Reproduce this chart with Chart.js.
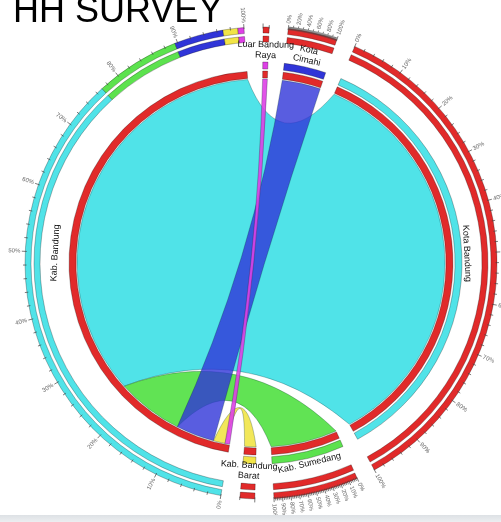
<!DOCTYPE html>
<html lang="id">
<head>
<meta charset="UTF-8">
<title>HH Survey</title>
<style>
    body {
        margin: 0;
        background: #fff;
        font-family: "Liberation Sans", Arial, sans-serif;
    }
    .wrap {
        position: relative;
        width: 501px;
        height: 522px;
        overflow: hidden;
    }
    .title {
        position: absolute;
        left: 13px;
        top: -8px;
        font-size: 36px;
        line-height: 36px;
        color: #000;
        white-space: nowrap;
    }
    #chart {
        position: absolute;
        left: 0;
        top: 0;
    }
    .strip {
        position: absolute;
        left: 0;
        bottom: 0;
        width: 501px;
        height: 7px;
        background: linear-gradient(#dde1e5, #eceef0);
    }
</style>
<script src="https://cdn.jsdelivr.net/npm/chart.js"></script>
</head>
<body>
<div class="wrap">
    <canvas id="chart" width="501" height="522"></canvas>
    <div class="title">HH SURVEY</div>
    <div class="strip"></div>
</div>

<script>
    // households of Kab. Bandung by destination (% of the origin total)
    const origin = 'Kab. Bandung';
    const destinations = ['Kota Bandung', 'Kab. Sumedang', 'Kota Cimahi', 'Kab. Bandung Barat', 'Luar Bandung Raya'];
    const hhShare = [77.0, 12.6, 7.3, 2.2, 0.9];

    // segments round the circle, clockwise from the top
    const ringOrder = ['Luar Bandung Raya', 'Kota Cimahi', 'Kota Bandung', 'Kab. Sumedang', 'Kab. Bandung Barat', 'Kab. Bandung'];
    const ringText = [['Luar Bandung', 'Raya'], ['Kota', 'Cimahi'], ['Kota Bandung'], ['Kab. Sumedang'], ['Kab. Bandung', 'Barat'], ['Kab. Bandung']];

    // order in which the ribbons leave Kab. Bandung
    const ribbonOrder = ['Luar Bandung Raya', 'Kab. Bandung Barat', 'Kota Cimahi', 'Kab. Sumedang', 'Kota Bandung'];

    const tickLabels = ['0%', '10%', '20%', '30%', '40%', '50%', '60%', '70%', '80%', '90%', '100%'];

    const colors = {
        'Kab. Bandung': '#e12a2a',
        'Kota Bandung': '#50e3e8',
        'Kab. Sumedang': '#5ce24e',
        'Kota Cimahi': '#3035d8',
        'Kab. Bandung Barat': '#f1e447',
        'Luar Bandung Raya': '#de40e6'
    };
    const ribbonAlpha = {
        'Kota Bandung': 1, 'Kab. Sumedang': 0.97, 'Kota Cimahi': 0.8,
        'Kab. Bandung Barat': 0.9, 'Luar Bandung Raya': 0.9
    };

    const GAP = 2.8;
    const NONE = 'rgba(0,0,0,0)';
    const originTotal = hhShare.reduce((a, b) => a + b, 0);
    const valueOf = seg => seg === origin ? originTotal : hhShare[destinations.indexOf(seg)];

    function ring(piecesOf) {
        const data = [], backgroundColor = [], borderWidth = [], keys = [];
        ringOrder.forEach(seg => {
            piecesOf(seg).forEach(p => {
                data.push(p.value);
                backgroundColor.push(p.color);
                borderWidth.push(p.color === NONE ? 0 : 0.6);
                keys.push({ seg: seg, dest: p.dest });
            });
            data.push(GAP);
            backgroundColor.push(NONE);
            borderWidth.push(0);
            keys.push(null);
        });
        return { data, backgroundColor, borderWidth, keys };
    }

    const outerRing = ring(seg => seg === origin
        ? destinations.map((d, i) => ({ value: hhShare[i], color: colors[d], dest: d }))
        : [{ value: valueOf(seg), color: colors[origin] }]);
    const blank = ring(seg => [{ value: valueOf(seg), color: NONE }]);
    const trackB = ring(seg => [{ value: valueOf(seg), color: seg === origin ? NONE : colors[seg] }]);
    const trackA = ring(seg => [{ value: valueOf(seg), color: colors[origin] }]);
    const anchor = ring(seg => seg === origin
        ? ribbonOrder.map(d => ({ value: valueOf(d), color: NONE, dest: d }))
        : [{ value: valueOf(seg), color: NONE }]);

    // outermost first
    const rings = [outerRing, blank, outerRing, blank, trackB, blank, trackA, anchor];
    const weights = [6, 3, 6, 20, 7, 2, 7, 2];
    const TRACK_A = 6, ANCHOR = 7, OUTER = 0;

    const arcOf = (chart, idx, seg, dest) => {
        const keys = rings[idx].keys;
        const i = keys.findIndex(k => k && k.seg === seg && k.dest === dest);
        return chart.getDatasetMeta(idx).data[i];
    };

    function control(cx, cy, r, t1, t2) {
        const span = Math.abs(Math.atan2(Math.sin(t2 - t1), Math.cos(t2 - t1)));
        const mid = Math.atan2(Math.sin(t1) + Math.sin(t2), Math.cos(t1) + Math.cos(t2));
        const rc = 0.6 * r * Math.pow(Math.cos(span / 2), 1.5);
        return [cx + rc * Math.cos(mid), cy + rc * Math.sin(mid)];
    }

    const chordPlugin = {
        id: 'chord',
        beforeDatasetsDraw(chart) {
            const ctx = chart.ctx;
            destinations.forEach(d => {
                const src = arcOf(chart, ANCHOR, origin, d);
                const dst = arcOf(chart, ANCHOR, d, undefined);
                const cx = src.x, cy = src.y, r = src.outerRadius - 1;
                const a1 = src.startAngle, a2 = src.endAngle;
                const b1 = dst.startAngle, b2 = dst.endAngle;
                ctx.save();
                ctx.beginPath();
                ctx.arc(cx, cy, r, a1, a2);
                let c = control(cx, cy, r, a2, b1);
                ctx.quadraticCurveTo(c[0], c[1], cx + r * Math.cos(b1), cy + r * Math.sin(b1));
                ctx.arc(cx, cy, r, b1, b2);
                c = control(cx, cy, r, b2, a1);
                ctx.quadraticCurveTo(c[0], c[1], cx + r * Math.cos(a1), cy + r * Math.sin(a1));
                ctx.closePath();
                ctx.globalAlpha = ribbonAlpha[d];
                ctx.fillStyle = colors[d];
                ctx.fill();
                ctx.globalAlpha = 1;
                ctx.lineWidth = 0.6;
                ctx.strokeStyle = 'rgba(0,40,40,0.45)';
                ctx.stroke();
                ctx.restore();
            });
        },
        afterDatasetsDraw(chart) {
            const ctx = chart.ctx;
            const outerR = chart.getDatasetMeta(OUTER).data[0].outerRadius;
            ringOrder.forEach((seg, i) => {
                const arc = arcOf(chart, TRACK_A, seg, undefined);
                const cx = arc.x, cy = arc.y;
                const s = arc.startAngle, e = arc.endAngle;
                const spanDeg = (e - s) * 180 / Math.PI;

                // ticks on the outer ring
                ctx.save();
                ctx.strokeStyle = '#444';
                ctx.lineWidth = 0.7;
                const minor = spanDeg >= 8 ? 50 : 1;
                for (let k = 0; k <= minor; k++) {
                    const t = s + (e - s) * k / minor;
                    const len = (k % 5 === 0) ? 3.5 : 2;
                    ctx.beginPath();
                    ctx.moveTo(cx + (outerR - 1.5) * Math.cos(t), cy + (outerR - 1.5) * Math.sin(t));
                    ctx.lineTo(cx + (outerR + len) * Math.cos(t), cy + (outerR + len) * Math.sin(t));
                    ctx.stroke();
                }
                ctx.restore();

                // percentage labels
                const step = spanDeg >= 15 ? 1 : spanDeg >= 8 ? 2 : 0;
                if (step) {
                    ctx.save();
                    ctx.font = '6px "Liberation Sans", Arial, sans-serif';
                    ctx.fillStyle = '#666';
                    ctx.textBaseline = 'middle';
                    tickLabels.forEach((lab, j) => {
                        if (j % step) return;
                        const t = s + (e - s) * j / (tickLabels.length - 1);
                        ctx.save();
                        ctx.translate(cx, cy);
                        if (Math.cos(t) >= 0) {
                            ctx.rotate(t);
                            ctx.textAlign = 'left';
                            ctx.fillText(lab, outerR + 5, 0);
                        } else {
                            ctx.rotate(t + Math.PI);
                            ctx.textAlign = 'right';
                            ctx.fillText(lab, -(outerR + 5), 0);
                        }
                        ctx.restore();
                    });
                    ctx.restore();
                }

                // segment name
                const mid = (s + e) / 2;
                const lines = ringText[i];
                const lower = Math.sin(mid) > 0;
                const r = lines.length > 1 ? (lower ? 208 : 213) : 206;
                ctx.save();
                ctx.translate(cx + r * Math.cos(mid), cy + r * Math.sin(mid));
                ctx.rotate(lower ? mid - Math.PI / 2 : mid + Math.PI / 2);
                ctx.font = '9px "Liberation Sans", Arial, sans-serif';
                ctx.fillStyle = '#111';
                ctx.textAlign = 'center';
                ctx.textBaseline = 'middle';
                const lh = 10.5;
                lines.forEach((ln, k) => {
                    ctx.fillText(ln, 0, (k - (lines.length - 1) / 2) * lh);
                });
                ctx.restore();
            });
        }
    };

    const ctx = document.getElementById('chart').getContext('2d');
    new Chart(ctx, {
        type: 'doughnut',
        data: {
            labels: [],
            datasets: rings.map((rg, i) => ({
                data: rg.data,
                backgroundColor: rg.backgroundColor,
                borderWidth: rg.borderWidth,
                borderColor: 'rgba(0,0,0,0.45)',
                weight: weights[i],
                hoverOffset: 0
            }))
        },
        options: {
            responsive: false,
            animation: false,
            events: [],
            rotation: 0.5,
            radius: 236,
            cutout: (183 / 236 * 100) + '%',
            layout: { padding: { left: 25, right: 4, top: 27, bottom: 23 } },
            plugins: {
                legend: { display: false },
                tooltip: { enabled: false }
            }
        },
        plugins: [chordPlugin]
    });
</script>
</body>
</html>
